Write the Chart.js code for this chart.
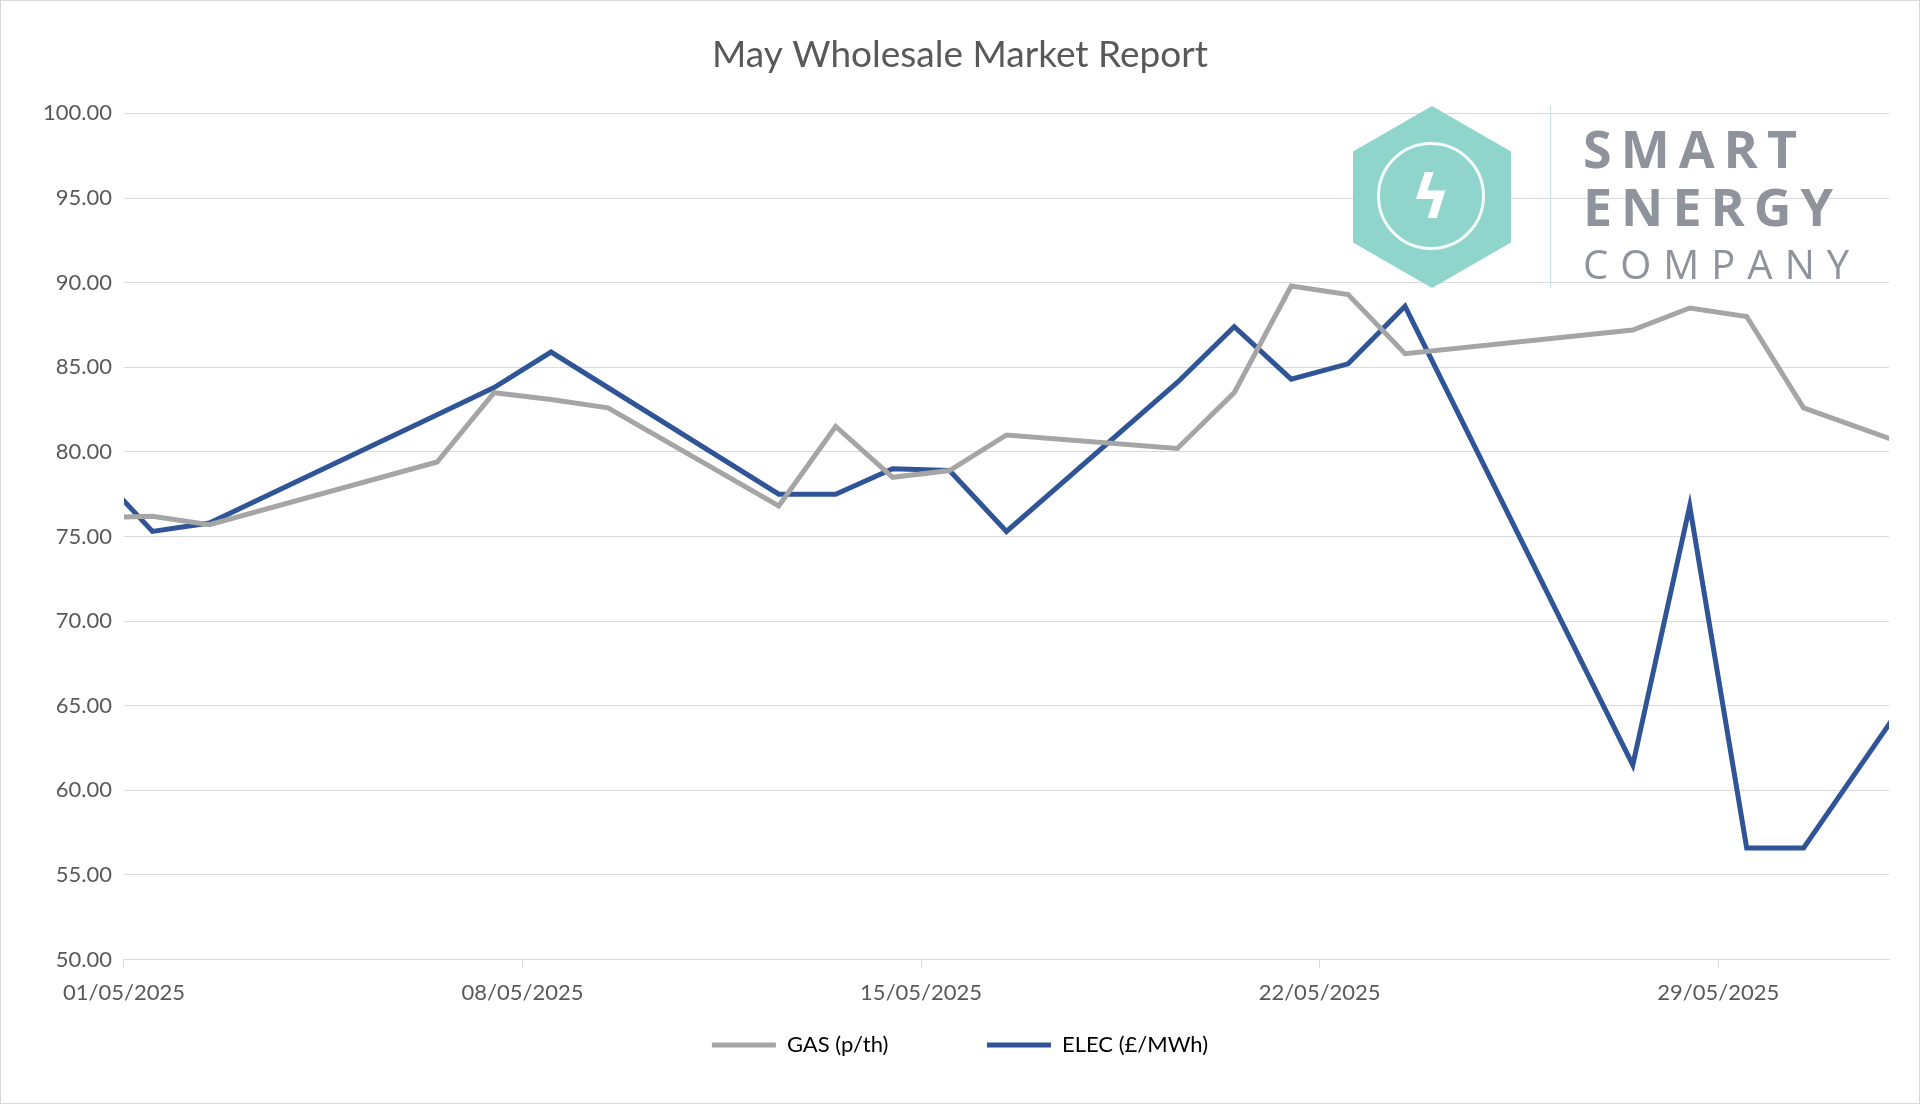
<!DOCTYPE html>
<html><head><meta charset="utf-8">
<script src="https://cdn.jsdelivr.net/npm/chart.js@4"></script>
<style>
html,body{margin:0;padding:0;background:#fff;}
#wrap{position:relative;width:1918px;height:1102px;border:1px solid #d9d9d9;}
#logo{position:absolute;left:1352px;top:105px;pointer-events:none;}
.hex{position:absolute;left:0;top:0;width:158px;height:182px;background:#8fd5cb;clip-path:polygon(50% 0,100% 25%,100% 75%,50% 100%,0 75%,0 25%);}
.ring{position:absolute;left:24px;top:36px;width:108px;height:108px;border:3px solid #fff;border-radius:50%;box-sizing:border-box;opacity:.9}
.bolt{position:absolute;left:58px;top:56px;color:#fff;font:bold 60px "DejaVu Sans";line-height:70px;}
.sep{position:absolute;left:197px;top:0;width:1px;height:182px;background:#bfe6e0;}
.t{position:absolute;left:230px;font-family:"Open Sans","DejaVu Sans";color:#8e939c;white-space:nowrap}
</style></head><body>
<div id="wrap"><canvas id="c" width="1918" height="1102"></canvas>
<div id="logo"><div class="hex"></div><div class="ring"></div><div class="bolt">ϟ</div><div class="sep"></div>
<div class="t" style="top:6px;font-size:52px;font-weight:bold;letter-spacing:9px">SMART</div>
<div class="t" style="top:64px;font-size:52px;font-weight:bold;letter-spacing:9px">ENERGY</div>
<div class="t" style="top:130px;font-size:40px;letter-spacing:12px">COMPANY</div></div>
</div>
<script>
const days=[-0.5,0.5,1.5,5.5,6.5,7.5,8.5,11.5,12.5,13.5,14.5,15.5,18.5,19.5,20.5,21.5,22.5,26.5,27.5,28.5,29.5,32.5];
const gas=[76.1,76.2,75.7,79.4,83.5,83.1,82.6,76.8,81.5,78.5,78.9,81.0,80.2,83.5,89.8,89.3,85.8,87.2,88.5,88.0,82.6,79.0];
const elec=[78.9,75.3,75.8,82.2,83.8,85.9,null,77.5,77.5,79.0,78.9,75.3,84.1,87.4,84.3,85.2,88.6,61.5,76.8,56.6,56.6,71.2];
const tickLabels={0:'01/05/2025',7:'08/05/2025',14:'15/05/2025',21:'22/05/2025',28:'29/05/2025'};
const pts=a=>days.map((d,i)=>({x:d,y:a[i]})).filter(p=>p.y!==null);
const F='Lato, "Open Sans", sans-serif';
new Chart(document.getElementById('c'),{type:'line',
data:{datasets:[
{label:'GAS (p/th)',data:pts(gas),borderColor:'#a5a5a5',borderWidth:5,pointRadius:0,tension:0},
{label:'ELEC (£/MWh)',data:pts(elec),borderColor:'#2f5597',borderWidth:5,pointRadius:0,tension:0}]},
options:{responsive:false,animation:false,
layout:{padding:{left:30,right:30,top:10,bottom:37}},
plugins:{title:{display:true,text:'May Wholesale Market Report',color:'#595959',font:{family:F,size:37,weight:'normal'},padding:{top:22,bottom:36}},
legend:{position:'bottom',labels:{color:'#595959',font:{family:F,size:22},boxWidth:64,boxHeight:0,padding:16,
 generateLabels:c=>c.data.datasets.map((d,i)=>({text:d.label+(i===0?'\u2003\u2003\u2003\u2003\u2003':''),strokeStyle:d.borderColor,fillStyle:d.borderColor,lineWidth:5,datasetIndex:i}))}},
tooltip:{enabled:false}},
scales:{x:{type:'linear',min:0,max:31,afterBuildTicks:a=>{a.ticks=[0,7,14,21,28].map(v=>({value:v}));},
 ticks:{callback:v=>tickLabels[v]||'',color:'#595959',font:{family:F,size:22},maxRotation:0,autoSkip:false,padding:12},
 grid:{drawOnChartArea:false,drawTicks:true,tickLength:8,color:'#d9d9d9'},border:{color:'#d9d9d9'}},
y:{min:50,max:100,ticks:{stepSize:5,callback:v=>v.toFixed(2),color:'#595959',font:{family:F,size:22},padding:12},
 grid:{color:'#d9d9d9',drawTicks:false},border:{display:false}}}}});
</script></body></html>
